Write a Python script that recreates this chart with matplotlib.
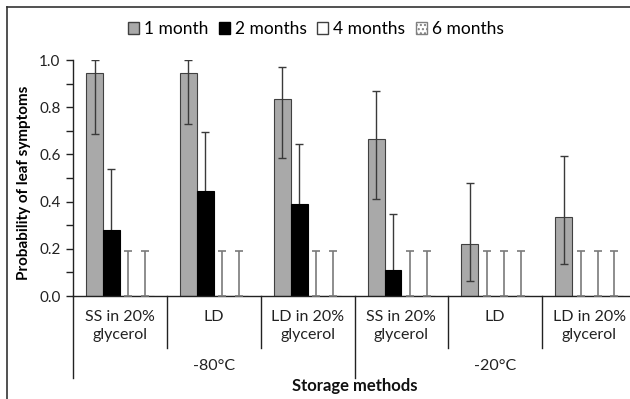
import matplotlib
matplotlib.use("Agg")
import matplotlib.pyplot as plt
from matplotlib.patches import Patch
from matplotlib.lines import Line2D
import numpy as np

plt.rcParams['font.family'] = ['Lato', 'DejaVu Sans']

categories = ["SS in 20%\nglycerol", "LD", "LD in 20%\nglycerol",
              "SS in 20%\nglycerol", "LD", "LD in 20%\nglycerol"]
temperatures = ["-80°C", "-20°C"]
series = ["1 month", "2 months", "4 months", "6 months"]

m1 = [0.944, 0.944, 0.833, 0.667, 0.222, 0.333]
m1_lo = [0.685, 0.728, 0.583, 0.41, 0.065, 0.134]
m1_hi = [1.0, 1.0, 0.969, 0.869, 0.478, 0.592]

m2 = [0.28, 0.446, 0.39, 0.11, 0.0, 0.0]
m2_lo = [0.10, 0.22, 0.17, 0.02, 0.0, 0.0]
m2_hi = [0.538, 0.695, 0.643, 0.347, 0.19, 0.19]

m4 = [0.0, 0.0, 0.0, 0.0, 0.0, 0.0]
m4_hi = [0.19, 0.19, 0.19, 0.19, 0.19, 0.19]
m6 = [0.0, 0.0, 0.0, 0.0, 0.0, 0.0]
m6_hi = [0.19, 0.19, 0.19, 0.19, 0.19, 0.19]

W, H = 630, 399
fig = plt.figure(figsize=(W / 100, H / 100), dpi=100)
ax = fig.add_axes([73 / W, 1 - 296 / H, (636 - 73) / W, (296 - 60) / H])

x = np.arange(len(categories)) + 0.5
bw = 0.18
offs = [-0.27, -0.09, 0.09, 0.27]
ecol = "#3a3a3a"
lcol = "#7a7a7a"

ax.bar(x + offs[0], m1, bw, color="#a9a9a9", edgecolor="#404040", linewidth=0.8, zorder=2)
ax.bar(x + offs[1], m2, bw, color="black", edgecolor="black", linewidth=0.8, zorder=2)
ax.bar(x + offs[2], m4, bw, color="white", edgecolor="#404040", linewidth=0.8, zorder=2)
ax.bar(x + offs[3], m6, bw, color="white", edgecolor="#404040", linewidth=0.8, zorder=2)

m1a = np.array(m1); m2a = np.array(m2)
ax.errorbar(x + offs[0], m1a, yerr=[m1a - np.array(m1_lo), np.array(m1_hi) - m1a],
            fmt="none", ecolor=ecol, elinewidth=1.0, capsize=3, capthick=1.0, zorder=3)
pos = m2a > 0
ax.errorbar((x + offs[1])[pos], m2a[pos],
            yerr=[(m2a - np.array(m2_lo))[pos], (np.array(m2_hi) - m2a)[pos]],
            fmt="none", ecolor=ecol, elinewidth=1.0, capsize=3, capthick=1.0, zorder=1)
ax.errorbar((x + offs[1])[~pos], m2a[~pos],
            yerr=[np.zeros((~pos).sum()), (np.array(m2_hi) - m2a)[~pos]],
            fmt="none", ecolor=lcol, elinewidth=1.2, capsize=3, capthick=1.2, zorder=3)
ax.errorbar(x + offs[2], m4, yerr=[np.zeros(6), np.array(m4_hi)],
            fmt="none", ecolor=lcol, elinewidth=1.2, capsize=3, capthick=1.2, zorder=3)
ax.errorbar(x + offs[3], m6, yerr=[np.zeros(6), np.array(m6_hi)],
            fmt="none", ecolor=lcol, elinewidth=1.2, capsize=3, capthick=1.2, zorder=3)

ax.set_xlim(0, 6)
ax.set_ylim(0, 1.0)
yt = np.arange(0, 1.01, 0.2)
ax.set_yticks(yt)
ax.set_yticklabels([f"{v:.1f}" for v in yt], fontsize=11, color="#222222")
ax.set_yticks(np.arange(0.1, 1.0, 0.2), minor=True)
ax.tick_params(axis="y", which="both", direction="out", length=5, width=1.0, color="#222222", pad=4)
ax.set_xticks([])
for s in ["top", "right"]:
    ax.spines[s].set_visible(False)
for s in ["left", "bottom"]:
    ax.spines[s].set_linewidth(1.0)
    ax.spines[s].set_color("#222222")

ax.set_ylabel("Probability of leaf symptoms", fontsize=11, fontweight="bold")
ax.yaxis.set_label_coords((31 - 73) / (636 - 73), (296 - 183) / (296 - 60))

trans = ax.get_xaxis_transform()
def ypix(p):
    return (296 - p) / (296 - 60)
for i in range(7):
    outer = i in (0, 3, 6)
    ax.plot([i, i], [0, ypix(378 if outer else 348)], color="#222222", lw=1.0,
            transform=trans, clip_on=False)
for i, c in enumerate(categories):
    ax.text(x[i], ypix(310), c, transform=trans, ha="center", va="top",
            fontsize=11.5, color="#222222", linespacing=1.4)
for j, t in enumerate(temperatures):
    ax.text(1.5 + 3 * j, ypix(366), t, transform=trans, ha="center", va="center",
            fontsize=11.5, color="#222222")
ax.text(3.0, ypix(386), "Storage methods", transform=trans, ha="center", va="center",
        fontsize=12, fontweight="bold", color="#111111")

handles = [
    Patch(facecolor="#a9a9a9", edgecolor="#404040", label=series[0]),
    Patch(facecolor="black", edgecolor="black", label=series[1]),
    Patch(facecolor="white", edgecolor="#404040", label=series[2]),
    Patch(facecolor="white", edgecolor="#808080", hatch="....", label=series[3]),
]
fig.legend(handles=handles, loc="center", bbox_to_anchor=(316 / W, 1 - 29 / H), ncol=4,
           frameon=False, fontsize=12.5, handlelength=0.62, handleheight=0.62,
           handletextpad=0.3, columnspacing=0.6)

fig.add_artist(Line2D([7 / W, 7 / W], [0, 1 - 7 / H], color="#333333", lw=1.2))
fig.add_artist(Line2D([7 / W, 1], [1 - 7 / H, 1 - 7 / H], color="#333333", lw=1.2))

fig.savefig("out.png", dpi=100)
